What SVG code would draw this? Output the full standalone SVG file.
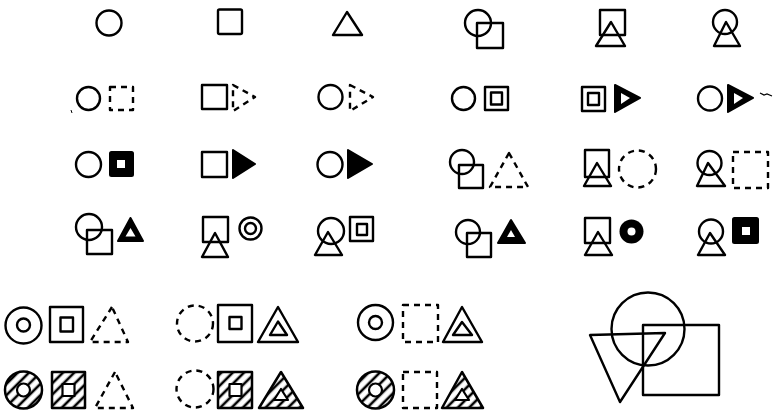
<svg xmlns="http://www.w3.org/2000/svg" width="779" height="411" viewBox="0 0 779 411">
<style>
.s{fill:none;stroke:#000;stroke-width:2.4;stroke-linejoin:round}
.d{stroke-dasharray:6 5}
.k{fill:#000;stroke:#000;stroke-width:2;stroke-linejoin:round}
.w{fill:#fff;stroke:none}
.wi{fill:#fff;stroke:#000;stroke-width:2.2;stroke-linejoin:round}
.h{fill:url(#hatch);stroke:#000;stroke-width:2.5;stroke-linejoin:round}
</style>
<defs>
<pattern id="hatch" width="8" height="8" patternUnits="userSpaceOnUse" patternTransform="rotate(45)">
<line x1="4" y1="0" x2="4" y2="8" stroke="#000" stroke-width="2.6"/>
</pattern>
</defs>
<rect width="779" height="411" fill="#fff"/>

<g id="n1"><circle class="s" cx="109" cy="23" r="12.5"/></g>
<g id="n2"><rect class="s" x="218" y="9.5" width="24" height="24.5" rx="1.5"/></g>
<g id="n3"><polygon class="s" points="347,12 333,35 362,35"/></g>
<g id="n4"><circle class="s" cx="478" cy="23" r="13"/><rect class="s" x="477" y="23" width="26" height="25"/></g>
<g id="n5"><rect class="s" x="600" y="10" width="25" height="25"/><polygon class="s" points="611,22 596,46 625,46"/></g>
<g id="n6"><circle class="s" cx="725" cy="22" r="12"/><polygon class="s" points="726,22 714,46 740,46"/></g>

<g id="n7"><circle class="s" cx="88.5" cy="98.5" r="11.5"/><rect class="s d" x="110" y="87" width="23" height="23"/></g>
<g id="n8"><rect class="s" x="202" y="85" width="25" height="24"/><polygon class="s d" points="233,85 255,97 233,111"/></g>
<g id="n9"><circle class="s" cx="330.5" cy="97" r="12"/><polygon class="s d" points="350,85 373,97 350,111"/></g>
<g id="n10"><circle class="s" cx="463.5" cy="98.5" r="11.5"/><rect class="s" x="485" y="87" width="23" height="23"/><rect class="s" x="491" y="92.5" width="11" height="12"/></g>
<g id="n11"><rect class="s" x="582" y="87" width="23" height="24"/><rect class="s" x="588" y="93" width="11" height="12"/><polygon class="k" points="615,85 640,98 615,112"/><polygon class="w" points="621,93 630,98 621,104"/></g>
<g id="n12"><circle class="s" cx="710" cy="98.5" r="12"/><polygon class="k" points="728,85 753,98 728,112"/><polygon class="w" points="734,93 743,98 734,104"/></g>

<g id="n13"><circle class="s" cx="88.5" cy="164.5" r="12.5"/><rect class="k" x="110" y="152" width="23" height="24" rx="1.5"/><rect class="w" x="117" y="160" width="8" height="8"/></g>
<g id="n14"><rect class="s" x="202" y="152" width="25" height="25"/><polygon class="k" points="233,150 255,164 233,178"/></g>
<g id="n15"><circle class="s" cx="330" cy="164.5" r="12.5"/><polygon class="k" points="348,150 372,164 348,178"/></g>
<g id="n16"><circle class="s" cx="462" cy="162" r="12"/><rect class="s" x="459" y="165" width="24" height="23"/><polygon class="s d" points="509,153 490,187 528,187"/></g>
<g id="n17"><rect class="s" x="585" y="150" width="24" height="27"/><polygon class="s" points="597,163 584,186 611,186"/><circle class="s d" cx="637.5" cy="169" r="18.5"/></g>
<g id="n18"><circle class="s" cx="709.5" cy="163" r="12"/><polygon class="s" points="708,163 697,186 725,186"/><rect class="s d" x="733" y="152" width="35" height="36"/></g>

<g id="n19"><circle class="s" cx="89" cy="227" r="13"/><rect class="s" x="87" y="230" width="25" height="24"/><polygon class="k" points="130.5,218 118,241 143,241"/><polygon class="w" points="130.5,228 125.5,236.5 135.5,236.5"/></g>
<g id="n20"><rect class="s" x="203" y="217" width="25" height="25"/><polygon class="s" points="215,233 202,257 228,257"/><circle class="s" cx="250.5" cy="228.5" r="11"/><circle class="s" cx="250.5" cy="228.5" r="5.5"/></g>
<g id="n21"><circle class="s" cx="331" cy="231" r="13"/><polygon class="s" points="328,232 315,255 342,255"/><rect class="s" x="350" y="217" width="23" height="24"/><rect class="s" x="357" y="224" width="10" height="11"/></g>
<g id="n22"><circle class="s" cx="468" cy="232" r="12"/><rect class="s" x="467" y="233" width="24" height="24"/><polygon class="k" points="511,220 498,243 525,243"/><polygon class="w" points="511,230 507,237 515,237"/></g>
<g id="n23"><rect class="s" x="585" y="218" width="25" height="25"/><polygon class="s" points="598,232 585,255 612,255"/><circle fill="#000" cx="631.5" cy="231.5" r="12"/><circle class="w" cx="631.5" cy="231.5" r="4"/></g>
<g id="n24"><circle class="s" cx="711" cy="231.5" r="12"/><polygon class="s" points="710,233 698,255 725,255"/><rect class="k" x="733" y="218" width="25" height="25" rx="1.5"/><rect class="w" x="742" y="227" width="8" height="8"/></g>

<g id="n25"><circle class="s" cx="23.5" cy="325.5" r="18"/><circle class="s" cx="23.5" cy="325" r="6.5"/><rect class="s" x="50" y="307" width="33" height="35"/><rect class="s" x="60.5" y="317.5" width="12.5" height="14"/><polygon class="s d" points="112,307 90,342 128,342"/></g>
<g id="n26"><circle class="s d" cx="195" cy="323.5" r="18"/><rect class="s" x="218" y="305" width="34" height="37"/><rect class="s" x="229.5" y="317" width="12" height="12"/><polygon class="s" points="278,307 258,342 298,342"/><polygon class="s" points="278,321.5 270,335 287,335"/></g>
<g id="n27"><circle class="s" cx="375.5" cy="322.5" r="17.5"/><circle class="s" cx="375.5" cy="322.5" r="6.5"/><rect class="s d" x="403" y="305" width="35" height="37"/><polygon class="s" points="462,307 443,342 482,342"/><polygon class="s" points="462,322 453,335 472,335"/></g>

<g id="n28"><circle class="h" cx="23.5" cy="390" r="18.5"/><circle class="wi" cx="23.5" cy="390" r="6.5"/><rect class="h" x="52" y="372" width="33" height="36"/><rect class="wi" x="62.5" y="384" width="12" height="12"/><polygon class="s d" points="115,372 95,408 133,408"/></g>
<g id="n29"><circle class="s d" cx="195" cy="389" r="18.5"/><rect class="h" x="218" y="372" width="34" height="36"/><rect class="wi" x="229.5" y="384" width="12" height="12"/><polygon class="h" points="281,372 259,408 303,408"/><polygon class="wi" points="281,389 274,400 288,400"/></g>
<g id="n30"><circle class="h" cx="375.5" cy="390" r="18.5"/><circle class="wi" cx="375.5" cy="390" r="6.5"/><rect class="s d" x="403" y="372" width="34" height="36"/><polygon class="h" points="462,372 442,408 483,408"/><polygon class="wi" points="462,389 455,400 469,400"/></g>

<g id="n31"><circle class="s" cx="648" cy="329" r="36.5"/><rect class="s" x="643" y="325" width="76" height="70"/><polygon class="s" points="590,335 665,333 620,402"/></g>

<g id="connectors"></g>
<g id="marks"><path d="M760,93 l4,2 l3,-1 l5,2" fill="none" stroke="#000" stroke-width="1.2"/><path d="M71,110 l1,3" fill="none" stroke="#000" stroke-width="1"/></g>
</svg>
